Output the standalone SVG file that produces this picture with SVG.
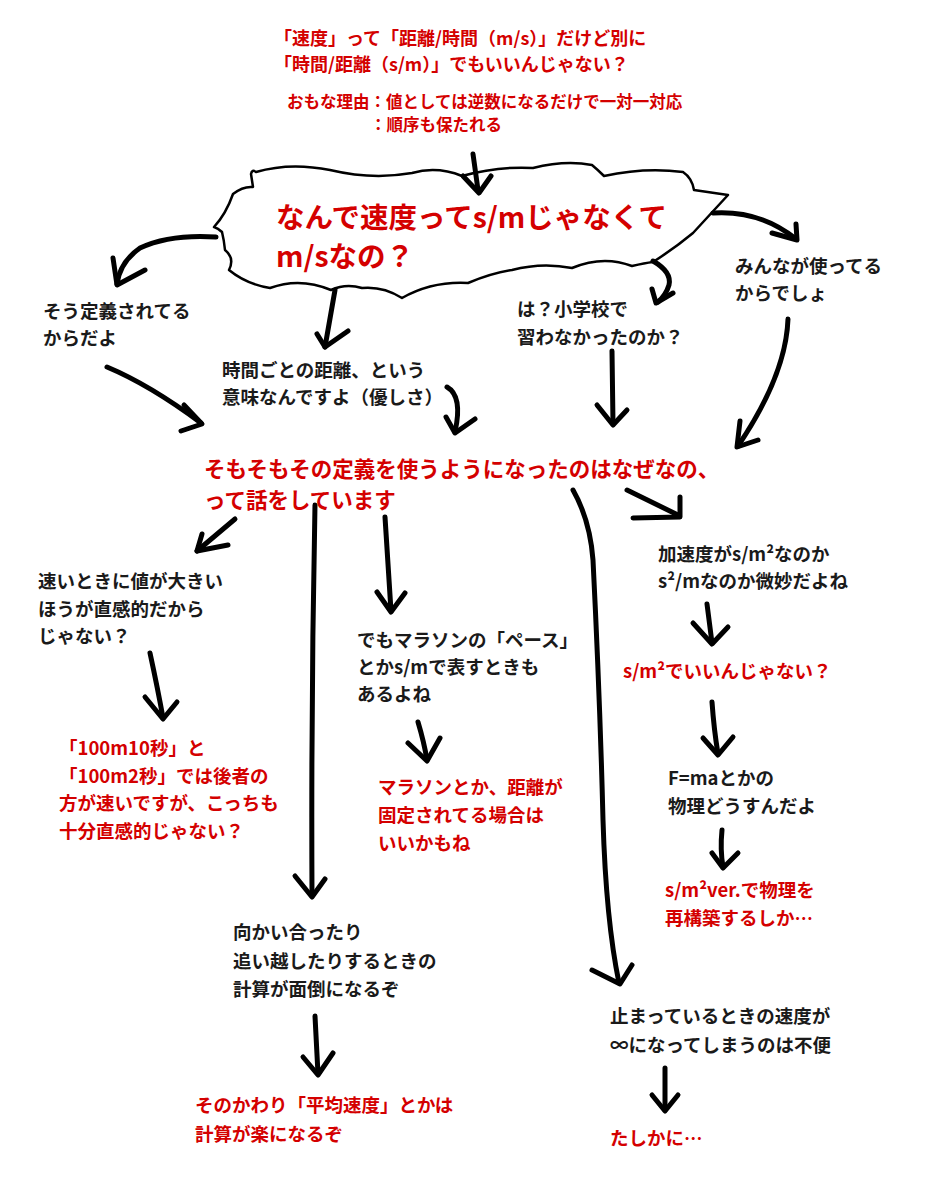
<svg xmlns="http://www.w3.org/2000/svg" width="929" height="1200" viewBox="0 0 929 1200">
<style>
.t{font-family:"Noto Sans CJK JP","Noto Sans CJK SC",sans-serif;font-weight:700;font-size:18.5px;fill:#1a1a1a}
.r{fill:#d40000}
.p1{font-size:18px}
.p2{font-size:16.5px}
.q{font-size:28.5px}
.m{font-size:21.5px}
.a{fill:none;stroke:#000;stroke-width:5;stroke-linecap:round;stroke-linejoin:round}
.cloud{fill:#fff;stroke:#000;stroke-width:2.5;stroke-linejoin:round}
</style>
<rect width="929" height="1200" fill="#fff"/>

<g id="premise">
<text class="t r p1" x="274" y="45">「速度」って「距離/時間（m/s）」だけど別に</text>
<text class="t r p1" x="274" y="71">「時間/距離（s/m）」でもいいんじゃない？</text>
<text class="t r p2" x="287" y="108">おもな理由：値としては逆数になるだけで一対一対応</text>
<text class="t r p2" x="370" y="131">：順序も保たれる</text>
</g>

<g id="question">
<path class="cloud" d="M253,187 L251,174 Q252,169 256,172 Q290,162 330,170 Q372,180 412,173 Q437,166 462,176 Q498,166 533,168 Q565,160 592,165 Q598,170 604,176 Q645,167 683,172 Q692,178 694,190 L728,195 L693,233 Q675,248 653,262 Q645,263 632,266 Q603,255 572,268 Q542,262 512,270 Q492,273 468,283 Q432,281 402,298 Q383,286 362,288 Q346,283 331,290 Q300,277 270,288 Q246,284 229,270 Q235,258 225,250 Q224,240 222,232 Q218,228 214,227 Q226,214 233,194 Q243,186 253,187 Z"/>
<text class="t r q" x="276" y="228">なんで速度ってs/mじゃなくて</text>
<text class="t r q" x="276" y="267">m/sなの？</text>
</g>

<g id="n-defined"><text class="t" x="43" y="318">そう定義されてる</text><text class="t" x="43" y="345">からだよ</text></g>
<g id="n-meaning"><text class="t" x="222" y="377">時間ごとの距離、という</text><text class="t" x="222" y="404">意味なんですよ（優しさ）</text></g>
<g id="n-school"><text class="t" x="517" y="316">は？小学校で</text><text class="t" x="517" y="344">習わなかったのか？</text></g>
<g id="n-everyone"><text class="t" x="735" y="273">みんなが使ってる</text><text class="t" x="735" y="300">からでしょ</text></g>

<g id="main">
<text class="t r m" x="204" y="477">そもそもその定義を使うようになったのはなぜなの、</text>
<text class="t r m" x="204" y="508">って話をしています</text>
</g>

<g id="n-intuitive"><text class="t" x="38" y="588">速いときに値が大きい</text><text class="t" x="38" y="616">ほうが直感的だから</text><text class="t" x="38" y="643">じゃない？</text></g>
<g id="n-100m"><text class="t r" x="59" y="755">「100m10秒」と</text><text class="t r" x="59" y="783">「100m2秒」では後者の</text><text class="t r" x="59" y="810">方が速いですが、こっちも</text><text class="t r" x="59" y="838">十分直感的じゃない？</text></g>
<g id="n-pace"><text class="t" x="357" y="647">でもマラソンの「ペース」</text><text class="t" x="357" y="674">とかs/mで表すときも</text><text class="t" x="357" y="701">あるよね</text></g>
<g id="n-marathon"><text class="t r" x="378" y="794">マラソンとか、距離が</text><text class="t r" x="378" y="822">固定されてる場合は</text><text class="t r" x="378" y="850">いいかもね</text></g>
<g id="n-accel"><text class="t" x="658" y="561">加速度がs/m²なのか</text><text class="t" x="658" y="588">s²/mなのか微妙だよね</text></g>
<g id="n-s-m2"><text class="t r" x="623" y="678">s/m²でいいんじゃない？</text></g>
<g id="n-fma"><text class="t" x="668" y="785">F=maとかの</text><text class="t" x="668" y="813">物理どうすんだよ</text></g>
<g id="n-rebuild"><text class="t r" x="665" y="897">s/m²ver.で物理を</text><text class="t r" x="665" y="925">再構築するしか…</text></g>
<g id="n-overtake"><text class="t" x="233" y="939">向かい合ったり</text><text class="t" x="233" y="968">追い越したりするときの</text><text class="t" x="233" y="996">計算が面倒になるぞ</text></g>
<g id="n-average"><text class="t r" x="195" y="1112">そのかわり「平均速度」とかは</text><text class="t r" x="195" y="1141">計算が楽になるぞ</text></g>
<g id="n-stop"><text class="t" x="610" y="1023">止まっているときの速度が</text><text class="t" x="610" y="1052">∞になってしまうのは不便</text></g>
<g id="n-indeed"><text class="t r" x="610" y="1145">たしかに…</text></g>

<g id="connectors">
<path class="a" d="M473,154 L478,190" stroke-width="9"/>
<path class="a" d="M463,176 L479,193 L491,176" stroke-width="6"/>
<path class="a" d="M216,237 Q170,234 140,248 Q120,262 117,284"/>
<path class="a" d="M113,258 L117,285 L145,270"/>
<path class="a" d="M335,290 L325,347"/>
<path class="a" d="M317,334 L325,347 L348,331"/>
<path class="a" d="M653,261 Q672,272 669,285 Q666,295 658,302"/>
<path class="a" d="M652,289 L656,303 L673,293"/>
<path class="a" d="M713,213 Q760,210 796,239"/>
<path class="a" d="M772,233 L797,240 L796,224"/>
<path class="a" d="M107,367 Q150,385 201,423"/>
<path class="a" d="M184,405 L202,424 L181,431"/>
<path class="a" d="M447,387 Q463,396 455,432"/>
<path class="a" d="M446,417 L455,433 L475,419"/>
<path class="a" d="M612,351 L613,424"/>
<path class="a" d="M597,405 L613,425 L627,410"/>
<path class="a" d="M788,319 Q786,375 738,446"/>
<path class="a" d="M740,421 L737,447 L758,440"/>
<path class="a" d="M235,519 L197,551"/>
<path class="a" d="M202,534 L197,551 L228,545"/>
<path class="a" d="M315,505 Q311,700 312,896"/>
<path class="a" d="M295,876 L312,897 L325,879"/>
<path class="a" d="M385,517 L391,611"/>
<path class="a" d="M377,592 L391,612 L405,593"/>
<path class="a" d="M573,490 Q590,520 593,560 Q600,700 603,820 Q606,920 619,983"/>
<path class="a" d="M592,970 L620,984 L632,965"/>
<path class="a" d="M627,490 L678,515"/>
<path class="a" d="M680,497 L680,517 L633,518"/>
<path class="a" d="M150,653 Q158,690 163,718"/>
<path class="a" d="M145,697 L163,719 L177,702"/>
<path class="a" d="M418,722 Q424,742 427,760"/>
<path class="a" d="M408,743 L427,761 L440,738"/>
<path class="a" d="M707,604 L712,643"/>
<path class="a" d="M693,623 L712,644 L728,627"/>
<path class="a" d="M712,702 Q714,730 718,754"/>
<path class="a" d="M703,738 L718,755 L733,737"/>
<path class="a" d="M722,830 Q720,850 723,867"/>
<path class="a" d="M712,853 L723,868 L738,853"/>
<path class="a" d="M315,1016 L318,1074"/>
<path class="a" d="M303,1057 L318,1075 L333,1053"/>
<path class="a" d="M665,1068 L665,1110"/>
<path class="a" d="M652,1095 L665,1111 L678,1095"/>
</g>
</svg>
